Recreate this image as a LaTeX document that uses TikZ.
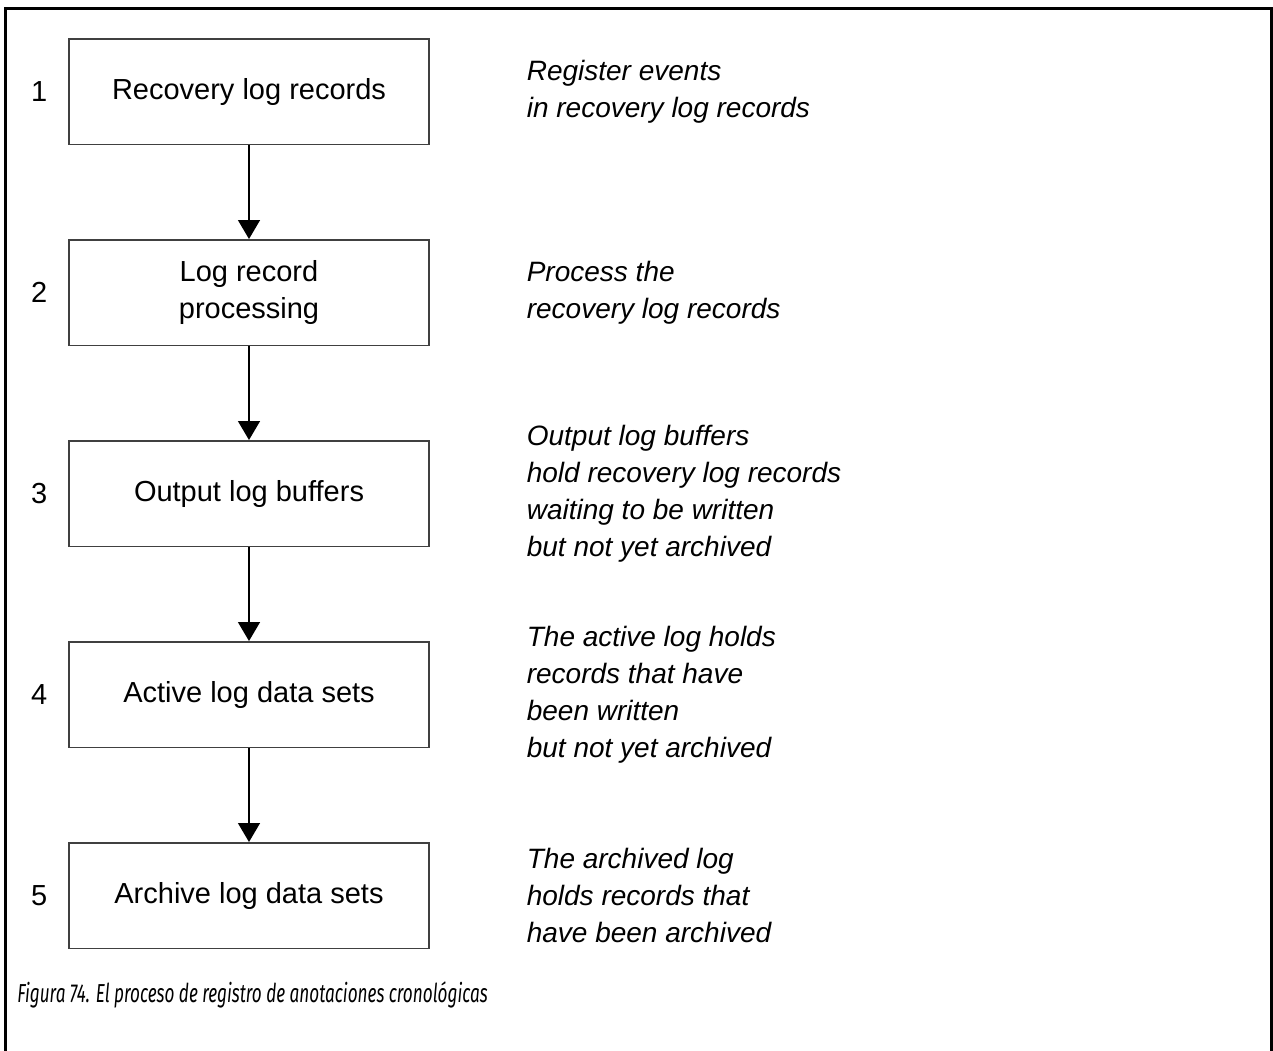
\documentclass[tikz,border=0pt]{standalone}
\usepackage{fontspec}
\setmainfont{Liberation Sans}
\newfontfamily\capfont[FakeStretch=0.66]{Fira Sans}
\usetikzlibrary{arrows.meta,positioning}

\begin{document}
\begin{tikzpicture}[x=0.5pt,y=-0.5pt,node distance=47pt,
  font=\fontsize{14.5}{18.5}\selectfont,
  stepbox/.style={draw=black!75,line width=0.75pt,minimum width=180pt,minimum height=52.75pt,align=center},
  num/.style={left=7pt of #1},
  note/.style={right=45pt of #1,align=left,font=\fontsize{14}{18.5}\selectfont\itshape},
  flow/.style={-{Triangle[width=11pt,length=9.5pt]},line width=0.75pt}]
\useasboundingbox (0,0) rectangle (1273,1050);
\draw[line width=1.5pt] (5,1060) -- (5,8) -- (1271,8) -- (1271,1060);
\node[stepbox] (s1) at (249,91.5) {Recovery log records};
\node[stepbox,below=of s1] (s2) {Log record\\processing};
\node[stepbox,below=of s2] (s3) {Output log buffers};
\node[stepbox,below=of s3] (s4) {Active log data sets};
\node[stepbox,below=of s4] (s5) {Archive log data sets};
\node[num=s1] (n1) {1};
\node[num=s2] (n2) {2};
\node[num=s3] (n3) {3};
\node[num=s4] (n4) {4};
\node[num=s5] (n5) {5};
\node[note=s1] (d1) {Register events\\in recovery log records};
\node[note=s2] (d2) {Process the\\recovery log records};
\node[note=s3] (d3) {Output log buffers\\hold recovery log records\\waiting to be written\\but not yet archived};
\node[note=s4] (d4) {The active log holds\\records that have\\been written\\but not yet archived};
\node[note=s5] (d5) {The archived log\\holds records that\\have been archived};
\draw[flow] (s1) -- (s2);
\draw[flow] (s2) -- (s3);
\draw[flow] (s3) -- (s4);
\draw[flow] (s4) -- (s5);
\node[anchor=west,inner sep=0pt,font=\capfont\itshape\fontsize{13}{16}\selectfont] (cap) at (17,995) {Figura 74. El proceso de registro de anotaciones cronológicas};
\end{tikzpicture}
\end{document}
